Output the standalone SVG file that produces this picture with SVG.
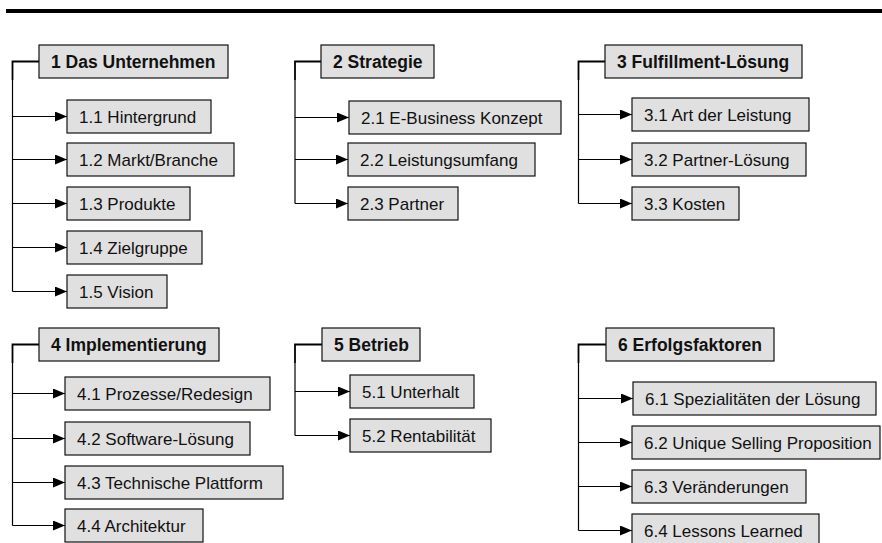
<svg xmlns="http://www.w3.org/2000/svg" width="882" height="543" viewBox="0 0 882 543">
<style>
.box{fill:#e0e0e0;stroke:#111;stroke-width:1.2}
.t{font-family:"Liberation Sans",Arial,sans-serif;font-size:17px;fill:#111}
.h{font-weight:bold;font-size:17.5px}
.ln{fill:none;stroke:#000;stroke-width:1.2}
.hl{fill:none;stroke:#000;stroke-width:1.8}
</style>
<defs>
<marker id="ah" markerUnits="userSpaceOnUse" markerWidth="12" markerHeight="10" refX="12" refY="5" orient="auto">
<path d="M0,0 L12,5 L0,10 z" fill="#000"/>
</marker>
</defs>
<rect x="6" y="9" width="876" height="4" fill="#000"/>
<g id="connectors">
<path class="hl" d="M39,61.5 H12.5 V80"/>
<path class="ln" d="M12.5,80 V291.5"/>
<path class="ln" d="M12.5,116.5 H67" marker-end="url(#ah)"/>
<path class="ln" d="M12.5,159.5 H67" marker-end="url(#ah)"/>
<path class="ln" d="M12.5,203.5 H67" marker-end="url(#ah)"/>
<path class="ln" d="M12.5,247.5 H67" marker-end="url(#ah)"/>
<path class="ln" d="M12.5,291.5 H67" marker-end="url(#ah)"/>
<path class="hl" d="M321,61.5 H295 V80"/>
<path class="ln" d="M295,80 V203.5"/>
<path class="ln" d="M295,117.5 H349" marker-end="url(#ah)"/>
<path class="ln" d="M295,159.5 H348" marker-end="url(#ah)"/>
<path class="ln" d="M295,203.5 H348" marker-end="url(#ah)"/>
<path class="hl" d="M605,61.5 H578.5 V80"/>
<path class="ln" d="M578.5,80 V203.5"/>
<path class="ln" d="M578.5,114.5 H632" marker-end="url(#ah)"/>
<path class="ln" d="M578.5,159.5 H632" marker-end="url(#ah)"/>
<path class="ln" d="M578.5,203.5 H632" marker-end="url(#ah)"/>
<path class="hl" d="M39,344.5 H12.5 V363"/>
<path class="ln" d="M12.5,363 V525.5"/>
<path class="ln" d="M12.5,393.5 H65" marker-end="url(#ah)"/>
<path class="ln" d="M12.5,438.5 H65" marker-end="url(#ah)"/>
<path class="ln" d="M12.5,482.5 H65" marker-end="url(#ah)"/>
<path class="ln" d="M12.5,525.5 H65" marker-end="url(#ah)"/>
<path class="hl" d="M322,344.5 H295 V363"/>
<path class="ln" d="M295,363 V435.5"/>
<path class="ln" d="M295,391.5 H350" marker-end="url(#ah)"/>
<path class="ln" d="M295,435.5 H350" marker-end="url(#ah)"/>
<path class="hl" d="M606,344.5 H578.5 V363"/>
<path class="ln" d="M578.5,363 V530.5"/>
<path class="ln" d="M578.5,398.5 H633" marker-end="url(#ah)"/>
<path class="ln" d="M578.5,442.5 H632" marker-end="url(#ah)"/>
<path class="ln" d="M578.5,486.5 H632" marker-end="url(#ah)"/>
<path class="ln" d="M578.5,530.5 H632" marker-end="url(#ah)"/>
</g>
<g id="n1"><rect class="box" x="39" y="45" width="189" height="33"/><text class="t h" x="51" y="67.5">1 Das Unternehmen</text></g>
<g id="n1-1"><rect class="box" x="67" y="100" width="144" height="33"/><text class="t" x="79" y="122.5">1.1 Hintergrund</text></g>
<g id="n1-2"><rect class="box" x="67" y="143" width="167" height="33"/><text class="t" x="79" y="165.5">1.2 Markt/Branche</text></g>
<g id="n1-3"><rect class="box" x="67" y="187" width="123" height="33"/><text class="t" x="79" y="209.5">1.3 Produkte</text></g>
<g id="n1-4"><rect class="box" x="67" y="231" width="135" height="33"/><text class="t" x="79" y="253.5">1.4 Zielgruppe</text></g>
<g id="n1-5"><rect class="box" x="67" y="275" width="100" height="33"/><text class="t" x="79" y="297.5">1.5 Vision</text></g>
<g id="n2"><rect class="box" x="321" y="45" width="113" height="33"/><text class="t h" x="333" y="67.5">2 Strategie</text></g>
<g id="n2-1"><rect class="box" x="349" y="101" width="212" height="33"/><text class="t" x="361" y="123.5">2.1 E-Business Konzept</text></g>
<g id="n2-2"><rect class="box" x="348" y="143" width="187" height="33"/><text class="t" x="360" y="165.5">2.2 Leistungsumfang</text></g>
<g id="n2-3"><rect class="box" x="348" y="187" width="110" height="33"/><text class="t" x="360" y="209.5">2.3 Partner</text></g>
<g id="n3"><rect class="box" x="605" y="45" width="197" height="33"/><text class="t h" x="617" y="67.5">3 Fulfillment-Lösung</text></g>
<g id="n3-1"><rect class="box" x="632" y="98" width="177" height="33"/><text class="t" x="644" y="120.5">3.1 Art der Leistung</text></g>
<g id="n3-2"><rect class="box" x="632" y="143" width="174" height="33"/><text class="t" x="644" y="165.5">3.2 Partner-Lösung</text></g>
<g id="n3-3"><rect class="box" x="632" y="187" width="107" height="33"/><text class="t" x="644" y="209.5">3.3 Kosten</text></g>
<g id="n4"><rect class="box" x="39" y="328" width="180" height="33"/><text class="t h" x="51" y="350.5">4 Implementierung</text></g>
<g id="n4-1"><rect class="box" x="65" y="377" width="205" height="33"/><text class="t" x="77" y="399.5">4.1 Prozesse/Redesign</text></g>
<g id="n4-2"><rect class="box" x="65" y="422" width="185" height="33"/><text class="t" x="77" y="444.5">4.2 Software-Lösung</text></g>
<g id="n4-3"><rect class="box" x="65" y="466" width="218" height="33"/><text class="t" x="77" y="488.5">4.3 Technische Plattform</text></g>
<g id="n4-4"><rect class="box" x="65" y="509" width="138" height="33"/><text class="t" x="77" y="531.5">4.4 Architektur</text></g>
<g id="n5"><rect class="box" x="322" y="328" width="98" height="33"/><text class="t h" x="334" y="350.5">5 Betrieb</text></g>
<g id="n5-1"><rect class="box" x="350" y="375" width="124" height="33"/><text class="t" x="362" y="397.5">5.1 Unterhalt</text></g>
<g id="n5-2"><rect class="box" x="350" y="419" width="141" height="33"/><text class="t" x="362" y="441.5">5.2 Rentabilität</text></g>
<g id="n6"><rect class="box" x="606" y="328" width="168" height="33"/><text class="t h" x="618" y="350.5">6 Erfolgsfaktoren</text></g>
<g id="n6-1"><rect class="box" x="633" y="382" width="243" height="33"/><text class="t" x="645" y="404.5">6.1 Spezialitäten der Lösung</text></g>
<g id="n6-2"><rect class="box" x="632" y="426" width="248" height="33"/><text class="t" x="644" y="448.5">6.2 Unique Selling Proposition</text></g>
<g id="n6-3"><rect class="box" x="632" y="470" width="174" height="33"/><text class="t" x="644" y="492.5">6.3 Veränderungen</text></g>
<g id="n6-4"><rect class="box" x="632" y="514" width="187" height="33"/><text class="t" x="644" y="536.5">6.4 Lessons Learned</text></g>
</svg>
